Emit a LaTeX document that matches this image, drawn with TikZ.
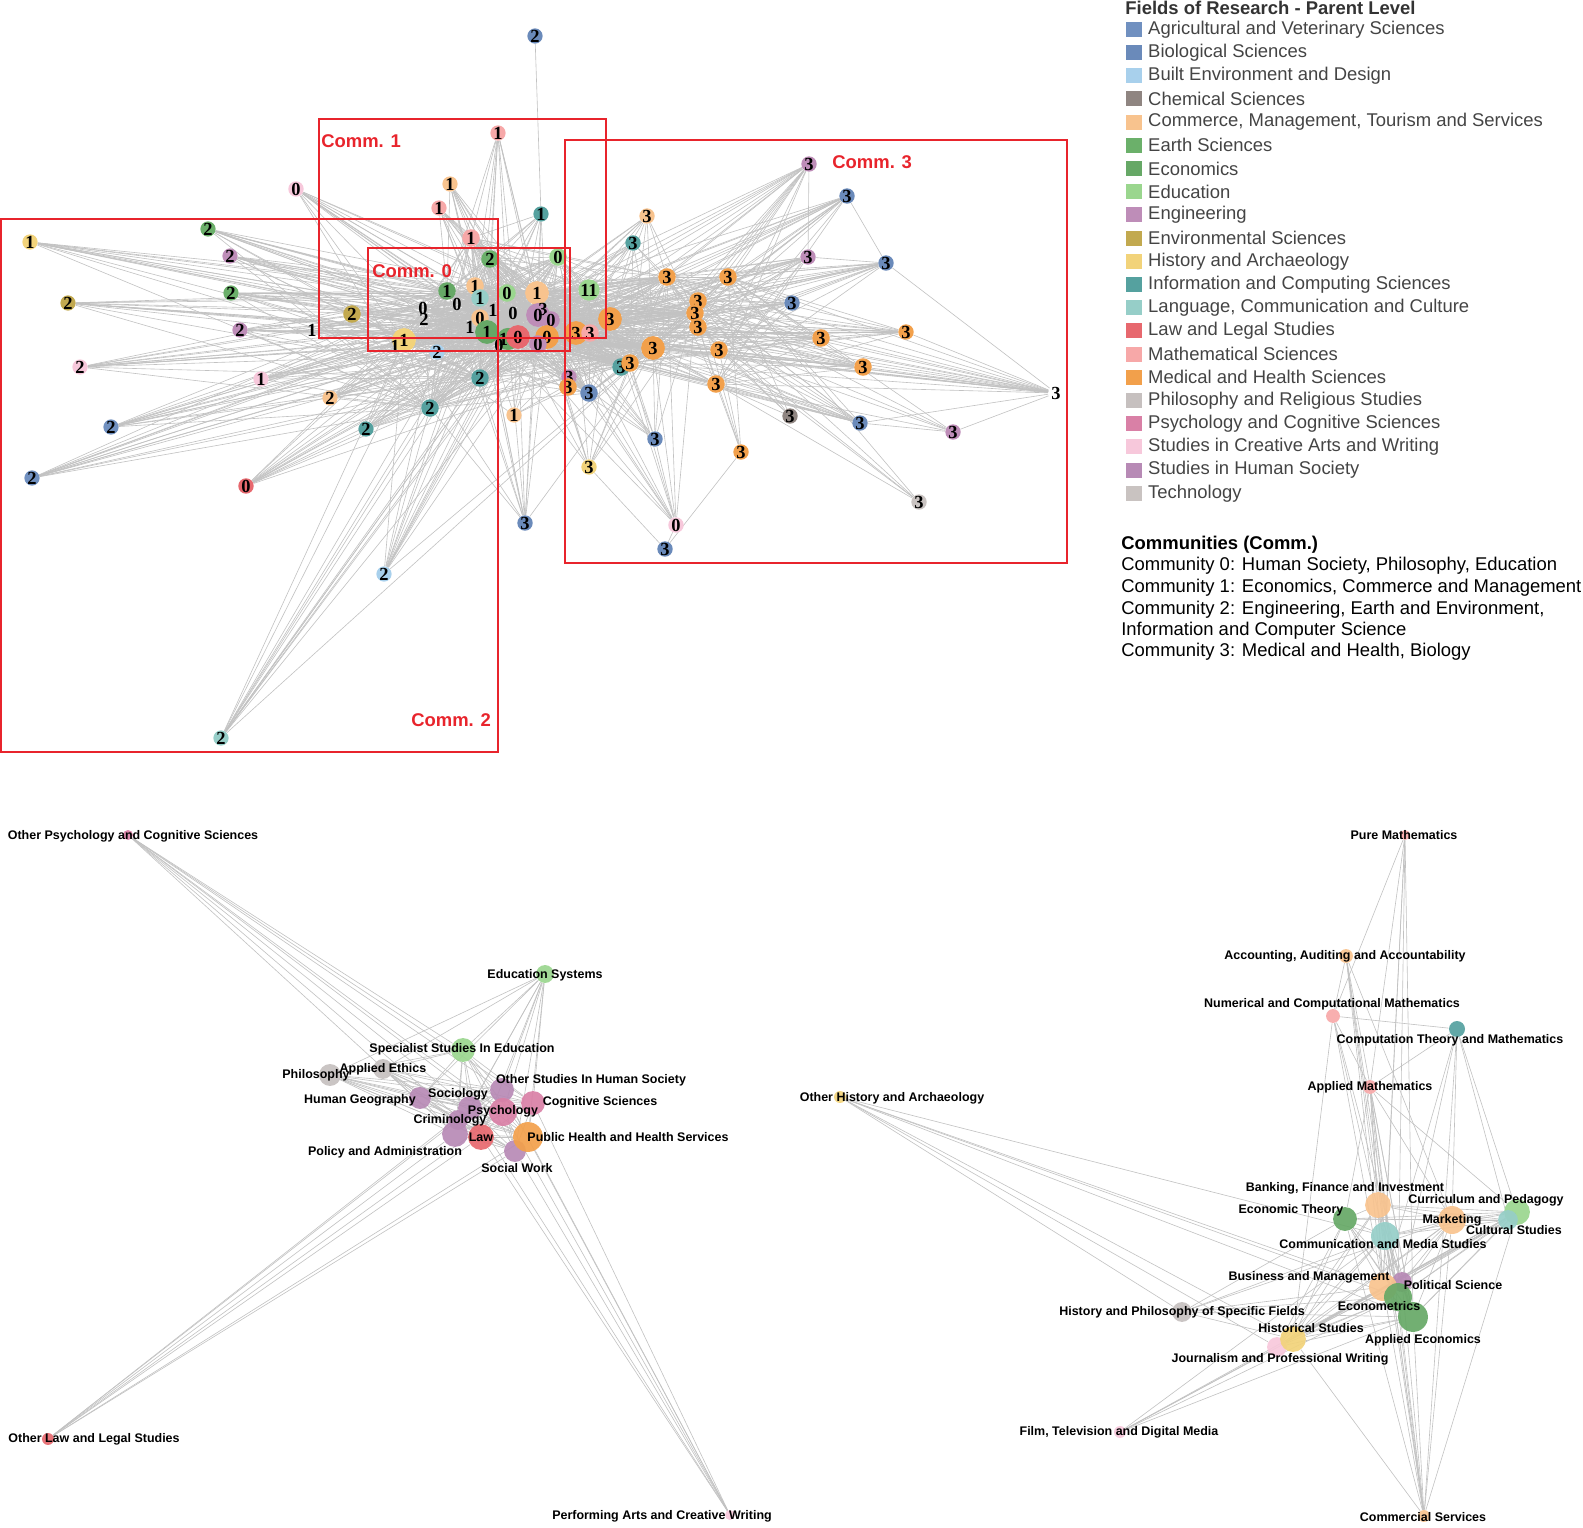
\documentclass[tikz,border=0pt]{standalone}
\usepackage{fontspec}
\setmainfont{Liberation Sans}
\newfontfamily\numfont{Liberation Serif}
\usetikzlibrary{positioning}
\usetikzlibrary{backgrounds}
% field colours
\definecolor{agr}{HTML}{7090C0}
\definecolor{bio}{HTML}{6A8ABA}
\definecolor{blt}{HTML}{A8D0EC}
\definecolor{chm}{HTML}{8F8581}
\definecolor{cmm}{HTML}{F8C38E}
\definecolor{ear}{HTML}{6BB06A}
\definecolor{eco}{HTML}{66A866}
\definecolor{edu}{HTML}{9AD68E}
\definecolor{eng}{HTML}{BE8DB8}
\definecolor{env}{HTML}{C2A94F}
\definecolor{his}{HTML}{F2D37A}
\definecolor{inf}{HTML}{55A19F}
\definecolor{lan}{HTML}{96CEC8}
\definecolor{law}{HTML}{E7686E}
\definecolor{mth}{HTML}{F7A8A8}
\definecolor{med}{HTML}{F2A04B}
\definecolor{phi}{HTML}{C6C0BF}
\definecolor{psy}{HTML}{D980A6}
\definecolor{art}{HTML}{F7C8DB}
\definecolor{hum}{HTML}{B78AB5}
\definecolor{tec}{HTML}{C9C3C1}
\definecolor{commred}{HTML}{E8242C}
\definecolor{legtext}{HTML}{444444}
\tikzset{
        % Field nodes of the upper network
        node_field/.style={circle, inner sep=0pt, text=black, font=\numfont\bfseries\fontsize{10.5}{10}\selectfont},
        size_xs/.style={minimum size=5pt},
        size_s/.style={minimum size=7.6pt},
        size_m/.style={minimum size=10pt},
        size_l/.style={minimum size=13.5pt},
        % Nodes of the lower networks
        node_sub/.style={circle, inner sep=0pt, fill opacity=0.92},
        node_label/.style={inner sep=0pt, text=black, font=\bfseries\fontsize{7.1}{8}\selectfont},
        % Links
        link/.style={draw=black!24, line width=0.35pt},
        % Community boxes
        comm_box/.style={draw=commred, line width=0.6pt},
        comm_label/.style={anchor=west, inner sep=0pt, text=commred, font=\bfseries\fontsize{10.5}{12}\selectfont},
        % Legend
        leg_box/.style={rectangle, inner sep=0pt, minimum size=8.6pt},
        leg_text/.style={inner sep=0pt, text=legtext, font=\fontsize{10.5}{12}\selectfont},
        comm_text/.style={anchor=west, inner sep=0pt, text=black, font=\fontsize{10.5}{12}\selectfont}
}

\begin{document}
\begin{tikzpicture}[x=0.02cm, y=-0.02cm]
    \useasboundingbox (0,0) rectangle (1583,1528);

    % upper network: fields of research by community
    \foreach \n/\x/\y/\c/\s/\t in {
        1/535/36/bio/size_s/2, 2/30/242/his/size_s/1, 3/208/229/ear/size_s/2, 4/230/256/eng/size_s/2,
        5/231/293/ear/size_s/2, 6/68/303/env/size_s/2, 7/352/314/env/size_m/2, 8/240/330/eng/size_s/2,
        9/312/330/none/size_s/1, 10/80/367/art/size_s/2, 11/261/379/art/size_s/1, 12/330/398/cmm/size_s/2,
        13/111/427/agr/size_s/2, 14/430/408/inf/size_m/2, 15/366/429/inf/size_s/2, 16/480/378/inf/size_m/2,
        17/32/478/agr/size_s/2, 18/246/486/law/size_xs/0, 19/296/189/art/size_xs/0, 20/384/574/blt/size_s/2,
        21/221/738/lan/size_s/2, 22/525/523/bio/size_s/3, 23/498/133/mth/size_s/1, 24/450/184/cmm/size_s/1,
        25/439/208/mth/size_s/1, 26/541/214/inf/size_s/1, 27/471/238/mth/size_m/1, 28/490/259/ear/size_m/2,
        29/558/257/edu/size_m/0, 30/447/291/eco/size_m/1, 31/475/286/cmm/size_m/1, 32/480/298/lan/size_m/1,
        33/507/293/edu/size_m/0, 34/537/293/cmm/size_l/1, 35/589/290/edu/size_m/11, 36/457/304/none/size_s/0,
        37/423/308/none/size_s/0, 38/424/319/none/size_s/2, 39/493/310/none/size_s/1, 40/513/313/none/size_s/0,
        41/480/318/cmm/size_m/0, 42/470/327/none/size_s/1, 43/487/332/eco/size_l/1, 44/508/339/eco/size_m/10,
        45/518/337/law/size_l/0, 46/538/315/eng/size_l/0, 47/543/309/none/size_s/3, 48/551/320/eng/size_m/0,
        49/547/337/med/size_l/0, 50/538/344/eng/size_m/0, 51/499/345/none/size_s/0, 52/404/340/his/size_l/1,
        53/395/346/none/size_s/1, 54/437/352/blt/size_s/2, 56/576/333/med/size_l/3, 57/590/333/mth/size_m/3,
        58/610/319/med/size_l/3, 59/514/415/cmm/size_s/1,
        60/809/164/eng/size_s/3, 61/847/196/bio/size_s/3, 62/647/216/cmm/size_s/3, 63/633/243/inf/size_s/3,
        64/808/257/eng/size_s/3, 65/886/263/bio/size_s/3, 66/667/277/med/size_m/3, 67/728/277/med/size_m/3,
        68/792/303/bio/size_s/3, 69/698/301/med/size_m/3, 70/695/313/med/size_m/3, 71/698/327/med/size_m/3,
        72/906/332/med/size_s/3, 73/821/338/med/size_m/3, 74/653/348/med/size_l/3, 75/719/350/med/size_m/3,
        76/863/367/med/size_m/3, 77/621/367/inf/size_m/3, 78/630/363/med/size_m/3, 79/716/384/med/size_m/3,
        80/589/393/bio/size_m/3, 81/569/377/eng/size_s/3, 82/568/387/med/size_m/3, 83/1056/393/none/size_s/3,
        84/790/416/chm/size_s/3, 85/860/423/bio/size_s/3, 86/953/432/eng/size_s/3, 87/655/439/bio/size_s/3,
        88/741/452/med/size_s/3, 89/589/467/his/size_s/3, 90/919/502/tec/size_xs/3, 91/676/525/art/size_xs/0,
        92/665/549/bio/size_s/3}
        \node[node_field, \s, fill=\c] (t\n) at (\x,\y) {\t};

    \begin{pgfonlayer}{background}
        \draw[link] (t1) -- (t26);
        % dense core
        \foreach \a [count=\i] in {27,28,29,30,31,32,33,34,35,36,37,39,40,41,43,44,45,46,48,49,50,51,52,54,56,57,58,16,14,74,70,78,77,80,66}
            \foreach \b [count=\j] in {27,28,29,30,31,32,33,34,35,36,37,39,40,41,43,44,45,46,48,49,50,51,52,54,56,57,58,16,14,74,70,78,77,80,66}
                {\ifnum\j>\i \draw[link] (t\a) -- (t\b); \fi}
        \foreach \a in {2,...,13,15,17,18,19,20,21,22}
            \foreach \h in {43,45,49,52,41,16,34,46,74,30,32,44,14}
                \draw[link] (t\a) -- (t\h);
        \foreach \a in {23,24,25,26}
            \foreach \h in {34,43,46,49,45,31,33,41,30,28,27}
                \draw[link] (t\a) -- (t\h);
        \foreach \a in {59,47,42,38,53}
            \foreach \h in {74,70,58,52,43,49,45,34}
                \draw[link] (t\a) -- (t\h);
        \foreach \a in {60,...,65,67,68,69,71,72,73,75,76,79,81,...,92}
            \foreach \h in {74,70,58,49,46,66,56,78,45,43,34}
                \draw[link] (t\a) -- (t\h);
        \foreach \a in {60,61,64,65,68,72,73,76,83,84,85,86,88,90}
            \foreach \h in {67,69,71,75,79}
                \draw[link] (t\a) -- (t\h);
        \foreach \a/\b in {83/72,83/76,83/65,83/73,83/86,83/85,60/64,61/65,64/65,85/86,91/87,91/92,88/92,89/92}
            \draw[link] (t\a) -- (t\b);
    \end{pgfonlayer}

    % communities
    \draw[comm_box] (319,119) rectangle (606,338);
    \draw[comm_box] (368,248) rectangle (570,351);
    \draw[comm_box] (1,219) rectangle (498,752);
    \draw[comm_box] (565,140) rectangle (1067,563);
    \node[comm_label] (comm1) at (321,141) {Comm. 1};
    \node[comm_label] (comm0) at (372,271) {Comm. 0};
    \node[comm_label] (comm3) at (832,162) {Comm. 3};
    \node[comm_label] (comm2) at (411,720) {Comm. 2};

    % legend
    \node[anchor=west, inner sep=0pt, text=black!80, font=\bfseries\fontsize{10.5}{12}\selectfont] (legtitle) at (1125,8) {Fields of Research - Parent Level};
    \foreach \c/\t [count=\i from 0] in {agr/Agricultural and Veterinary Sciences, bio/Biological Sciences,
        blt/Built Environment and Design, chm/Chemical Sciences, cmm/{Commerce, Management, Tourism and Services},
        ear/Earth Sciences, eco/Economics, edu/Education, eng/Engineering, env/Environmental Sciences,
        his/History and Archaeology, inf/Information and Computing Sciences, lan/{Language, Communication and Culture},
        law/Law and Legal Studies, mth/Mathematical Sciences, med/Medical and Health Sciences,
        phi/Philosophy and Religious Studies, psy/Psychology and Cognitive Sciences,
        art/Studies in Creative Arts and Writing, hum/Studies in Human Society, tec/Technology}
    {
        \node[leg_box, fill=\c] (leg\i) at (1134,{29.3+23.2*\i}) {};
        \node[leg_text, right=3.4pt of leg\i] (legt\i) {\t};
    }
    \node[comm_text, font=\bfseries\fontsize{10.5}{12}\selectfont] (commtitle) at (1121,545) {Communities (Comm.)};
    \node[comm_text] (commt0) at (1121,566) {Community 0: Human Society, Philosophy, Education};
    \node[comm_text] (commt1) at (1121,588) {Community 1: Economics, Commerce and Management};
    \node[comm_text] (commt2) at (1121,610) {Community 2: Engineering, Earth and Environment,};
    \node[comm_text] (commt2b) at (1121,631) {Information and Computer Science};
    \node[comm_text] (commt3) at (1121,652) {Community 3: Medical and Health, Biology};

    % lower left network
    \foreach \n/\x/\y/\c/\d in {bl_opsy/128/835/psy/5.7pt, bl_edsy/545/974/edu/10.2pt, bl_spec/463/1050/edu/13.6pt,
        bl_phil/330/1075/phi/12.5pt, bl_aeth/383/1069/phi/11.3pt, bl_osthu/502/1090/hum/13.6pt,
        bl_hgeo/420/1098/hum/12.5pt, bl_soci/470/1108/hum/13.6pt, bl_crim/458/1120/hum/11.3pt,
        bl_poli/455/1134/hum/14.7pt, bl_psyc/503/1112/psy/15.9pt, bl_cogn/533/1103/psy/13.6pt,
        bl_socw/515/1151/hum/12.5pt, bl_law/481/1137/law/14.7pt, bl_pubh/528/1137/med/17pt,
        bl_olaw/48/1439/law/6.8pt, bl_perf/730/1515/art/5.7pt}
        \node[node_sub, fill=\c, minimum size=\d] (\n) at (\x,\y) {};

    \begin{pgfonlayer}{background}
        \foreach \a [count=\i] in {bl_spec,bl_phil,bl_aeth,bl_osthu,bl_hgeo,bl_soci,bl_crim,bl_poli,bl_psyc,bl_cogn,bl_socw,bl_law,bl_pubh}
            \foreach \b [count=\j] in {bl_spec,bl_phil,bl_aeth,bl_osthu,bl_hgeo,bl_soci,bl_crim,bl_poli,bl_psyc,bl_cogn,bl_socw,bl_law,bl_pubh}
                {\ifnum\j>\i \draw[link] (\a) -- (\b); \fi}
        \foreach \b in {bl_spec,bl_psyc,bl_cogn,bl_soci,bl_law,bl_pubh,bl_poli,bl_osthu}
            \draw[link] (bl_opsy) -- (\b);
        \foreach \b in {bl_spec,bl_osthu,bl_psyc,bl_soci,bl_phil,bl_aeth,bl_hgeo,bl_law,bl_pubh,bl_socw,bl_cogn,bl_poli}
            \draw[link] (bl_edsy) -- (\b);
        \foreach \b in {bl_law,bl_poli,bl_psyc,bl_soci,bl_crim,bl_socw,bl_pubh}
            \draw[link] (bl_olaw) -- (\b);
        \foreach \b in {bl_psyc,bl_pubh,bl_socw,bl_cogn,bl_law,bl_osthu,bl_soci}
            \draw[link] (bl_perf) -- (\b);
    \end{pgfonlayer}

    \foreach \n/\x/\y/\t in {lab_opsy/133/836/Other Psychology and Cognitive Sciences, lab_edsy/545/975/Education Systems,
        lab_spec/462/1049/Specialist Studies In Education, lab_phil/316/1075/Philosophy, lab_aeth/383/1069/Applied Ethics,
        lab_osthu/591/1080/Other Studies In Human Society, lab_hgeo/360/1100/Human Geography, lab_soci/458/1094/Sociology,
        lab_psyc/503/1111/Psychology, lab_cogn/600/1102/Cognitive Sciences, lab_crim/450/1120/Criminology,
        lab_law/481/1137/Law, lab_poli/385/1152/Policy and Administration, lab_pubh/628/1137/Public Health and Health Services,
        lab_socw/517/1168/Social Work, lab_olaw/94/1439/Other Law and Legal Studies, lab_perf/662/1516/Performing Arts and Creative Writing}
        \node[node_label] (\n) at (\x,\y) {\t};

    % lower right network
    \foreach \n/\x/\y/\c/\d in {br_pmat/1405/835/mth/5.7pt, br_acct/1346/956/cmm/7.9pt, br_numc/1333/1016/mth/7.9pt,
        br_comp/1457/1029/inf/9.1pt, br_amat/1370/1087/mth/7.9pt, br_ohis/840/1097/his/6.8pt,
        br_bank/1378/1205/cmm/14.7pt, br_curr/1517/1212/edu/14.7pt, br_ecth/1345/1219/eco/13.6pt,
        br_cult/1508/1220/lan/11.3pt, br_mark/1452/1220/cmm/15.9pt, br_cmed/1385/1236/lan/15.9pt,
        br_pols/1402/1282/hum/11.3pt, br_busm/1383/1287/cmm/15.9pt, br_ectr/1398/1297/eco/15.9pt,
        br_aeco/1413/1317/eco/17pt, br_hphi/1182/1312/phi/11.3pt, br_jour/1277/1347/art/11.3pt,
        br_hist/1293/1339/his/14.7pt, br_film/1120/1432/art/6.8pt, br_csrv/1424/1516/cmm/6.8pt}
        \node[node_sub, fill=\c, minimum size=\d] (\n) at (\x,\y) {};

    \begin{pgfonlayer}{background}
        \foreach \a [count=\i] in {br_bank,br_curr,br_ecth,br_cult,br_mark,br_cmed,br_pols,br_busm,br_ectr,br_aeco,br_hist,br_jour}
            \foreach \b [count=\j] in {br_bank,br_curr,br_ecth,br_cult,br_mark,br_cmed,br_pols,br_busm,br_ectr,br_aeco,br_hist,br_jour}
                {\ifnum\j>\i \draw[link] (\a) -- (\b); \fi}
        \foreach \a/\b in {br_pmat/br_amat, br_pmat/br_numc, br_pmat/br_busm, br_pmat/br_ectr, br_pmat/br_cmed, br_pmat/br_aeco,
                br_acct/br_numc, br_acct/br_busm, br_acct/br_bank, br_acct/br_mark, br_acct/br_ectr, br_acct/br_aeco, br_acct/br_csrv,
                br_numc/br_comp, br_numc/br_amat, br_numc/br_busm, br_numc/br_ectr, br_numc/br_aeco, br_numc/br_hist,
                br_comp/br_amat, br_comp/br_curr, br_comp/br_cult, br_comp/br_busm, br_comp/br_ectr, br_comp/br_mark, br_comp/br_csrv,
                br_amat/br_busm, br_amat/br_ectr, br_amat/br_aeco, br_amat/br_bank, br_amat/br_mark, br_amat/br_curr,
                br_amat/br_cmed, br_amat/br_ecth, br_amat/br_csrv,
                br_ohis/br_busm, br_ohis/br_hist, br_ohis/br_jour, br_ohis/br_ectr, br_ohis/br_hphi, br_ohis/br_cmed, br_ohis/br_aeco,
                br_hphi/br_busm, br_hphi/br_ectr, br_hphi/br_hist, br_hphi/br_cmed, br_hphi/br_aeco, br_hphi/br_ecth, br_hphi/br_mark,
                br_film/br_jour, br_film/br_hist, br_film/br_busm, br_film/br_ectr, br_film/br_cmed, br_film/br_aeco,
                br_csrv/br_busm, br_csrv/br_ectr, br_csrv/br_aeco, br_csrv/br_cmed, br_csrv/br_mark, br_csrv/br_hist,
                br_csrv/br_bank, br_csrv/br_ecth, br_csrv/br_curr, br_csrv/br_pols}
            \draw[link] (\a) -- (\b);
    \end{pgfonlayer}

    \foreach \n/\x/\y/\t in {lab_pmat/1404/835/Pure Mathematics, lab_acct/1345/956/{Accounting, Auditing and Accountability},
        lab_numc/1332/1004/Numerical and Computational Mathematics, lab_comp/1450/1040/Computation Theory and Mathematics,
        lab_amat/1370/1087/Applied Mathematics, lab_ohis/892/1098/Other History and Archaeology,
        lab_bank/1345/1188/{Banking, Finance and Investment}, lab_curr/1486/1200/Curriculum and Pedagogy,
        lab_ecth/1291/1210/Economic Theory, lab_mark/1452/1220/Marketing, lab_cult/1514/1230/Cultural Studies,
        lab_cmed/1383/1244/Communication and Media Studies, lab_busm/1309/1277/Business and Management,
        lab_pols/1453/1285/Political Science, lab_ectr/1379/1306/Econometrics, lab_aeco/1423/1340/Applied Economics,
        lab_hphi/1182/1312/History and Philosophy of Specific Fields, lab_hist/1311/1328/Historical Studies,
        lab_jour/1280/1359/Journalism and Professional Writing, lab_film/1119/1432/{Film, Television and Digital Media},
        lab_csrv/1423/1517/Commercial Services}
        \node[node_label] (\n) at (\x,\y) {\t};
\end{tikzpicture}
\end{document}
